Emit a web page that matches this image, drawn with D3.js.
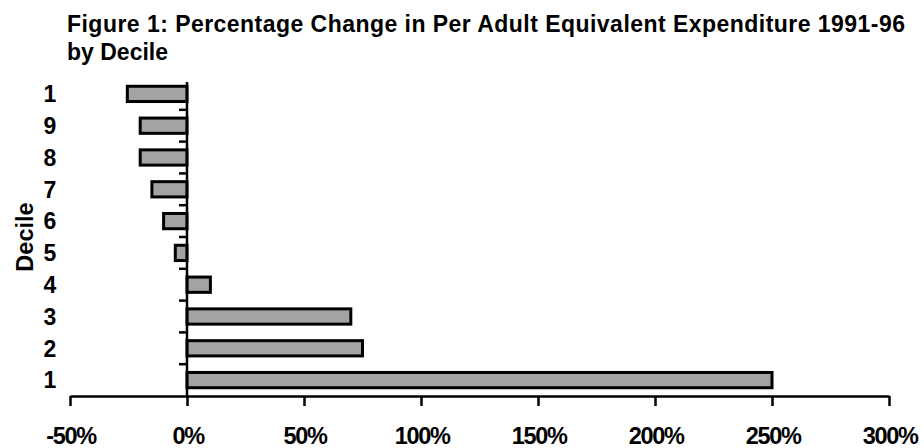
<!DOCTYPE html>
<html>
<head>
<meta charset="utf-8">
<script src="https://cdn.jsdelivr.net/npm/d3@7"></script>
<style>
  html, body { margin: 0; padding: 0; background: #fff; }
  svg { display: block; }
  text { font-family: Arial, "Liberation Sans", sans-serif; font-weight: bold; fill: #000; }
</style>
</head>
<body>
<svg id="chart" width="924" height="448"></svg>
<script>
// Data (top to bottom as shown)
const categories = ["1", "9", "8", "7", "6", "5", "4", "3", "2", "1"];
const values = [-25.5, -20, -20, -15, -10, -5, 10, 70, 75, 250];
const xTicks = [-50, 0, 50, 100, 150, 200, 250, 300];
const titleLines = ["Figure 1: Percentage Change in Per Adult Equivalent Expenditure 1991-96", "by Decile"];
const yTitle = "Decile";

const svg = d3.select("#chart");
const bottom = 396;
const step = 31.8;
const ids = categories.map((c, i) => i);

const x = d3.scaleLinear().domain([-50, 300]).range([70, 889]);
const y = d3.scaleBand().domain(ids).range([bottom - step * categories.length, bottom]).paddingInner(0.52).paddingOuter(0.26);

// Title
svg.append("text").attr("x", 67).attr("y", 31.5).style("font-size", "23px")
  .attr("textLength", 838).attr("lengthAdjust", "spacing").text(titleLines[0]);
svg.append("text").attr("x", 67).attr("y", 60).style("font-size", "23px").text(titleLines[1]);

// Bars
svg.append("g").selectAll("rect").data(values).join("rect")
  .attr("x", d => x(Math.min(0, d)))
  .attr("y", (d, i) => y(i))
  .attr("width", d => Math.abs(x(d) - x(0)))
  .attr("height", y.bandwidth())
  .attr("fill", "#a3a3a3")
  .attr("stroke", "#000")
  .attr("stroke-width", 3);

// X axis
const xAxis = d3.axisBottom(x).tickValues(xTicks).tickSize(10).tickSizeOuter(0).tickFormat(d => d + "%");
const gx = svg.append("g").attr("transform", `translate(0,${bottom})`).call(xAxis);
gx.select(".domain").attr("stroke", "#000").attr("stroke-width", 2.5);
gx.selectAll(".tick line").attr("stroke", "#000").attr("stroke-width", 2.5);
gx.selectAll(".tick text").attr("y", 48).attr("dy", 0).attr("dx", 0.6)
  .style("font-size", "23.5px").style("letter-spacing", "-1.3px")
  .style("font-family", "Arial, 'Liberation Sans', sans-serif").style("font-weight", "bold");

// Y axis line at 0
svg.append("line").attr("x1", x(0)).attr("x2", x(0)).attr("y1", 82).attr("y2", bottom)
  .attr("stroke", "#000").attr("stroke-width", 2.5);

// Y ticks between categories (left side)
const boundaries = d3.range(1, categories.length).map(i => bottom - step * categories.length + i * step);
svg.append("g").selectAll("line").data(boundaries).join("line")
  .attr("x1", x(0) - 8).attr("x2", x(0)).attr("y1", d => d).attr("y2", d => d)
  .attr("stroke", "#000").attr("stroke-width", 2.5);

// Y category labels
svg.append("g").selectAll("text").data(categories).join("text")
  .attr("x", 50).attr("y", (d, i) => y(i) + y.bandwidth() / 2)
  .attr("dy", "0.36em").attr("text-anchor", "middle").style("font-size", "23px")
  .text(d => d);

// Y title
svg.append("text").attr("transform", "translate(33,237) rotate(-90)")
  .attr("text-anchor", "middle").style("font-size", "23.5px").text(yTitle);
</script>
</body>
</html>
